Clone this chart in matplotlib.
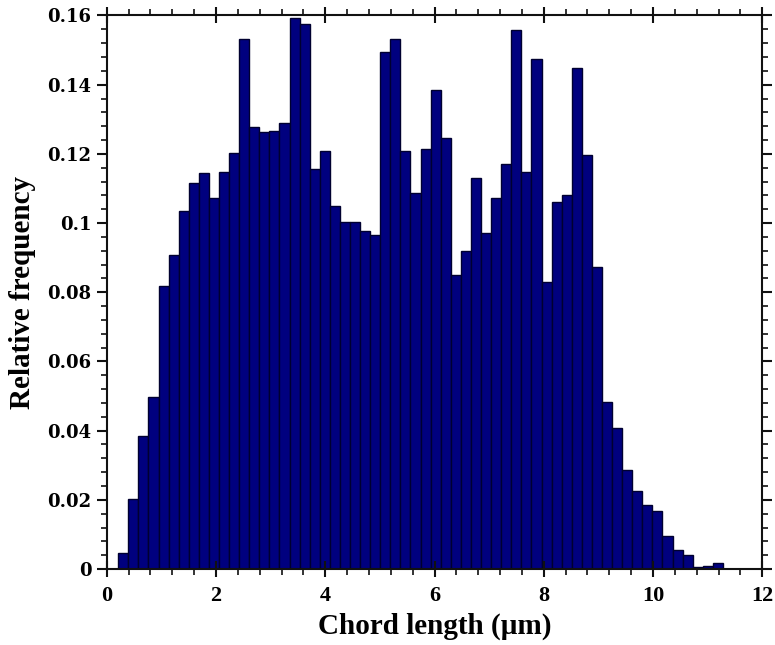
import numpy as np
import matplotlib
matplotlib.use("Agg")
import matplotlib.pyplot as plt
from matplotlib.ticker import MultipleLocator, FixedLocator, FixedFormatter

# Histogram data (relative frequency per bin)
bin_start = 0.21
bin_end = 11.28
rel_freq = [
    0.0045, 0.0201, 0.0385, 0.0496, 0.0818, 0.0907, 0.1036, 0.1117, 0.1144, 0.1072,
    0.1149, 0.1202, 0.1531, 0.1277, 0.1264, 0.1267, 0.1290, 0.1594, 0.1576, 0.1156,
    0.1209, 0.1049, 0.1004, 0.1004, 0.0978, 0.0965, 0.1493, 0.1531, 0.1209, 0.1086,
    0.1214, 0.1385, 0.1247, 0.0849, 0.0920, 0.1130, 0.0970, 0.1072, 0.1170, 0.1558,
    0.1149, 0.1473, 0.0831, 0.1060, 0.1082, 0.1447, 0.1197, 0.0872, 0.0483, 0.0408,
    0.0287, 0.0225, 0.0184, 0.0167, 0.0095, 0.0055, 0.0041, 0.0005, 0.0010, 0.0018,
]
x_ticks = [0, 2, 4, 6, 8, 10, 12]
x_labels = ["0", "2", "4", "6", "8", "10", "12"]
y_ticks = [0, 0.02, 0.04, 0.06, 0.08, 0.1, 0.12, 0.14, 0.16]
y_labels = ["0", "0.02", "0.04", "0.06", "0.08", "0.1", "0.12", "0.14", "0.16"]

edges = np.linspace(bin_start, bin_end, len(rel_freq) + 1)

fig = plt.figure(figsize=(7.75, 6.45), dpi=100)
ax = fig.add_axes([0.1377, 0.1178, 0.9836 - 0.1377, 0.976 - 0.1178])

ax.bar(edges[:-1], rel_freq, width=np.diff(edges), align="edge",
       color="#00007f", edgecolor="#000030", linewidth=1.0)

ax.set_xlim(0, 12)
ax.set_ylim(0, 0.16)

ax.xaxis.set_major_locator(FixedLocator(x_ticks))
ax.xaxis.set_major_formatter(FixedFormatter(x_labels))
ax.yaxis.set_major_locator(FixedLocator(y_ticks))
ax.yaxis.set_major_formatter(FixedFormatter(y_labels))
ax.xaxis.set_minor_locator(MultipleLocator(0.4))
ax.yaxis.set_minor_locator(MultipleLocator(0.004))

for s in ax.spines.values():
    s.set_linewidth(1.5)
    s.set_color("#111111")

ax.tick_params(which="major", direction="out", length=7, width=1.5,
               top=True, right=True, color="#111111")
ax.tick_params(which="minor", direction="out", length=4, width=1.2,
               top=True, right=True, color="#111111")
ax.tick_params(axis="x", which="major", direction="inout", length=12, pad=6)
ax.tick_params(axis="y", which="major", pad=4)

for lab in ax.get_xticklabels():
    lab.set_fontfamily("Liberation Serif")
    lab.set_fontweight("bold")
    lab.set_fontsize(16)
for lab in ax.get_yticklabels():
    lab.set_fontfamily("DejaVu Serif")
    lab.set_fontweight("bold")
    lab.set_fontsize(13)

ax.set_xlabel("Chord length (\u00b5m)", family="Liberation Serif",
              fontweight="bold", fontsize=21, labelpad=5)
ax.set_ylabel("Relative frequency", family="Liberation Serif",
              fontweight="bold", fontsize=21, labelpad=8)

fig.savefig("out.png", dpi=100, facecolor="white")
